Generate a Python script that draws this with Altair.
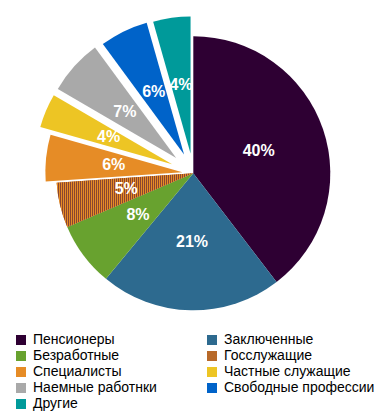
import altair as alt
import pandas as pd

# ---- data ----
CATEGORIES = ["Пенсионеры", "Заключенные", "Безработные", "Госслужащие",
              "Специалисты", "Частные служащие", "Наемные работнки",
              "Свободные профессии", "Другие"]
VALUES = [39.6, 21.4, 7.6, 5.3, 5.5, 4.0, 6.5, 5.7, 4.4]
LABELS = ["40%", "21%", "8%", "5%", "6%", "4%", "7%", "6%", "4%"]

# ---- style ----
COLORS = ["#2e0033", "#2d6a8f", "#68a22f", "#b86929", "#e68c26",
          "#edc524", "#a9a9a9", "#0063c9", "#009a9a"]
EXPLODE = {"Специалисты": 11, "Частные служащие": 23, "Наемные работнки": 23,
           "Свободные профессии": 21, "Другие": 20}
CX, CY = 185.3, 165.3      # pie centre inside the view
R = 137                    # outer radius
LR = 69                    # label radius
FONT = "Liberation Sans"

# legend is filled column by column: order entries so they read row by row
legend_order = CATEGORIES[0::2] + CATEGORIES[1::2]
legend_colors = [COLORS[CATEGORIES.index(c)] for c in legend_order]

df = pd.DataFrame({
    "cat": CATEGORIES,
    "value": VALUES,
    "label": LABELS,
    "idx": list(range(len(CATEGORIES))),
    "explode": [EXPLODE.get(c, 0) for c in CATEGORIES],
})

# dotted texture for Госслужащие approximated with fine vertical stripes
orange = "#e68c26"
darkmix = "#8a4630"
N = 68
stops = []
for k in range(N):
    a, b, c = k / N, (k + 0.5) / N, (k + 1) / N
    stops += [alt.GradientStop(offset=a, color=orange),
              alt.GradientStop(offset=b, color=orange),
              alt.GradientStop(offset=b, color=darkmix),
              alt.GradientStop(offset=c, color=darkmix)]
texture = alt.LinearGradient(gradient="linear", stops=stops, x1=0, x2=1, y1=0, y2=0)

base = alt.Chart(df).transform_window(
    cum="sum(value)", sort=[alt.SortField("idx")], frame=[None, 0]
).transform_joinaggregate(
    total="sum(value)"
).transform_calculate(
    t0="2*PI*(datum.cum-datum.value)/datum.total",
    t1="2*PI*datum.cum/datum.total",
).transform_calculate(
    mid="(datum.t0+datum.t1)/2"
).transform_calculate(
    px=f"{CX}+datum.explode*sin(datum.mid)",
    py=f"{CY}-datum.explode*cos(datum.mid)",
).transform_calculate(
    lx=f"datum.px+{LR}*sin(datum.mid)",
    ly=f"datum.py-{LR}*cos(datum.mid)",
)

pos = dict(
    x=alt.X("px:Q", scale=None, axis=None),
    y=alt.Y("py:Q", scale=None, axis=None),
    theta=alt.Theta("t0:Q", scale=None),
    theta2="t1:Q",
)

arcs = base.mark_arc(outerRadius=R).encode(
    color=alt.Color(
        "cat:N",
        scale=alt.Scale(domain=legend_order, range=legend_colors),
        legend=alt.Legend(
            title=None, orient="none", legendX=6, legendY=325, columns=2,
            symbolType="square", symbolSize=100, symbolStrokeWidth=0,
            symbolOpacity=1, labelFont=FONT, labelFontSize=14,
            labelColor="black", labelLimit=300, columnPadding=48,
            rowPadding=2, labelOffset=5, padding=0,
        ),
    ),
    **pos,
)

gos = base.transform_filter(alt.datum.cat == "Госслужащие").mark_arc(
    outerRadius=R, color=texture
).encode(**pos)

labels = base.mark_text(
    font=FONT, fontSize=16, fontWeight="bold", color="white",
    align="center", baseline="middle",
).encode(
    x=alt.X("lx:Q", scale=None, axis=None),
    y=alt.Y("ly:Q", scale=None, axis=None),
    text="label:N",
)

chart = alt.layer(arcs, gos, labels).properties(
    width=369, height=404, padding=0,
    autosize=alt.AutoSizeParams(type="none"),
).configure_view(stroke=None)

chart.save("out.html", embed_options={"renderer": "svg", "actions": False})
